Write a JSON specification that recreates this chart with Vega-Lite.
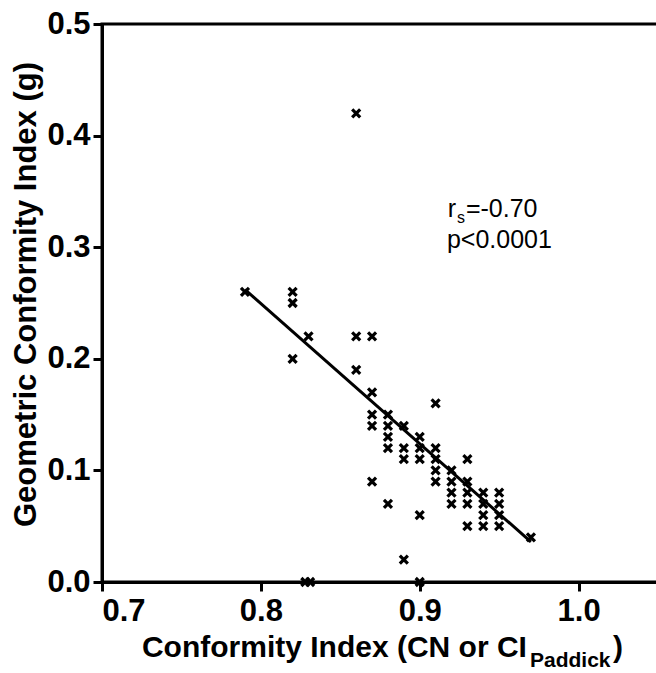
{
  "$schema": "https://vega.github.io/schema/vega-lite/v6.json",
  "width": 556,
  "height": 558,
  "autosize": "none",
  "padding": {"left": 102, "top": 24, "right": 0, "bottom": 91},
  "background": "white",
  "config": {
    "view": {"stroke": "black", "strokeWidth": 3},
    "font": "Liberation Sans",
    "axis": {
      "grid": false,
      "domainColor": "black",
      "domainWidth": 3,
      "tickColor": "black",
      "tickWidth": 3,
      "tickSize": 9,
      "labelFont": "Liberation Sans",
      "labelFontWeight": "bold",
      "labelFontSize": 31,
      "labelColor": "black",
      "titleFont": "Liberation Sans",
      "titleFontWeight": "bold",
      "titleFontSize": 31,
      "titleColor": "black",
      "zindex": 1
    }
  },
  "datasets": {
    "pts": [
      {"ci": 0.79, "g": 0.26},
      {"ci": 0.82, "g": 0.26},
      {"ci": 0.82, "g": 0.25},
      {"ci": 0.82, "g": 0.20},
      {"ci": 0.83, "g": 0.22},
      {"ci": 0.828, "g": 0.00},
      {"ci": 0.831, "g": 0.00},
      {"ci": 0.86, "g": 0.42},
      {"ci": 0.86, "g": 0.22},
      {"ci": 0.86, "g": 0.19},
      {"ci": 0.87, "g": 0.22},
      {"ci": 0.87, "g": 0.17},
      {"ci": 0.87, "g": 0.15},
      {"ci": 0.87, "g": 0.14},
      {"ci": 0.87, "g": 0.09},
      {"ci": 0.88, "g": 0.15},
      {"ci": 0.88, "g": 0.14},
      {"ci": 0.88, "g": 0.13},
      {"ci": 0.88, "g": 0.12},
      {"ci": 0.88, "g": 0.07},
      {"ci": 0.89, "g": 0.14},
      {"ci": 0.89, "g": 0.12},
      {"ci": 0.89, "g": 0.11},
      {"ci": 0.89, "g": 0.02},
      {"ci": 0.90, "g": 0.13},
      {"ci": 0.90, "g": 0.12},
      {"ci": 0.90, "g": 0.11},
      {"ci": 0.90, "g": 0.06},
      {"ci": 0.90, "g": 0.00},
      {"ci": 0.91, "g": 0.16},
      {"ci": 0.91, "g": 0.12},
      {"ci": 0.91, "g": 0.11},
      {"ci": 0.91, "g": 0.10},
      {"ci": 0.91, "g": 0.09},
      {"ci": 0.92, "g": 0.10},
      {"ci": 0.92, "g": 0.09},
      {"ci": 0.92, "g": 0.08},
      {"ci": 0.92, "g": 0.07},
      {"ci": 0.93, "g": 0.11},
      {"ci": 0.93, "g": 0.09},
      {"ci": 0.93, "g": 0.08},
      {"ci": 0.93, "g": 0.07},
      {"ci": 0.93, "g": 0.05},
      {"ci": 0.94, "g": 0.08},
      {"ci": 0.94, "g": 0.07},
      {"ci": 0.94, "g": 0.06},
      {"ci": 0.94, "g": 0.05},
      {"ci": 0.95, "g": 0.08},
      {"ci": 0.95, "g": 0.07},
      {"ci": 0.95, "g": 0.06},
      {"ci": 0.95, "g": 0.05},
      {"ci": 0.97, "g": 0.04}
    ],
    "fit": [
      {"ci": 0.79, "g": 0.262},
      {"ci": 0.97, "g": 0.036}
    ],
    "one": [{}]
  },
  "layer": [
    {
      "data": {"name": "fit"},
      "mark": {"type": "line", "color": "black", "strokeWidth": 3},
      "encoding": {
        "x": {
          "field": "ci", "type": "quantitative",
          "scale": {"domain": [0.7, 1.05], "nice": false, "zero": false},
          "axis": {"values": [0.7, 0.8, 0.9, 1.0], "format": ".1f", "title": null, "labelPadding": 5}
        },
        "y": {
          "field": "g", "type": "quantitative",
          "scale": {"domain": [0, 0.5], "nice": false},
          "axis": {
            "values": [0, 0.1, 0.2, 0.3, 0.4, 0.5], "format": ".1f",
            "title": "Geometric Conformity Index (g)",
            "labelPadding": 3,
            "titleX": -67, "titleY": 270, "titleBaseline": "alphabetic", "titleAlign": "center", "titleAngle": 270
          }
        }
      }
    },
    {
      "data": {"name": "pts"},
      "mark": {"type": "point", "shape": "M-1,-1L1,1M1,-1L-1,1", "size": 64, "filled": false, "stroke": "black", "strokeWidth": 3.2, "opacity": 1},
      "encoding": {
        "x": {"field": "ci", "type": "quantitative"},
        "y": {"field": "g", "type": "quantitative"}
      }
    },
    {
      "data": {"name": "one"},
      "mark": {"type": "text", "align": "left", "baseline": "alphabetic", "fontSize": 25, "font": "Liberation Sans", "color": "black"},
      "encoding": {"x": {"datum": 0.9177}, "y": {"datum": 0.3271}, "text": {"value": "r"}}
    },
    {
      "data": {"name": "one"},
      "mark": {"type": "text", "align": "left", "baseline": "alphabetic", "fontSize": 16, "font": "Liberation Sans", "color": "black"},
      "encoding": {"x": {"datum": 0.9234}, "y": {"datum": 0.3217}, "text": {"value": "s"}}
    },
    {
      "data": {"name": "one"},
      "mark": {"type": "text", "align": "left", "baseline": "alphabetic", "fontSize": 25, "font": "Liberation Sans", "color": "black"},
      "encoding": {"x": {"datum": 0.9291}, "y": {"datum": 0.3271}, "text": {"value": "=-0.70"}}
    },
    {
      "data": {"name": "one"},
      "mark": {"type": "text", "align": "left", "baseline": "alphabetic", "fontSize": 25, "font": "Liberation Sans", "color": "black"},
      "encoding": {"x": {"datum": 0.9171}, "y": {"datum": 0.2993}, "text": {"value": "p<0.0001"}}
    },
    {
      "data": {"name": "one"},
      "mark": {"type": "text", "align": "right", "baseline": "alphabetic", "fontSize": 30, "fontWeight": "bold", "font": "Liberation Sans", "color": "black"},
      "encoding": {"x": {"datum": 0.9675}, "y": {"datum": -0.0672}, "text": {"value": "Conformity Index (CN or CI"}}
    },
    {
      "data": {"name": "one"},
      "mark": {"type": "text", "align": "left", "baseline": "alphabetic", "fontSize": 21, "fontWeight": "bold", "font": "Liberation Sans", "color": "black"},
      "encoding": {"x": {"datum": 0.9694}, "y": {"datum": -0.0762}, "text": {"value": "Paddick"}}
    },
    {
      "data": {"name": "one"},
      "mark": {"type": "text", "align": "left", "baseline": "alphabetic", "fontSize": 30, "fontWeight": "bold", "font": "Liberation Sans", "color": "black"},
      "encoding": {"x": {"datum": 1.0216}, "y": {"datum": -0.0672}, "text": {"value": ")"}}
    }
  ]
}
